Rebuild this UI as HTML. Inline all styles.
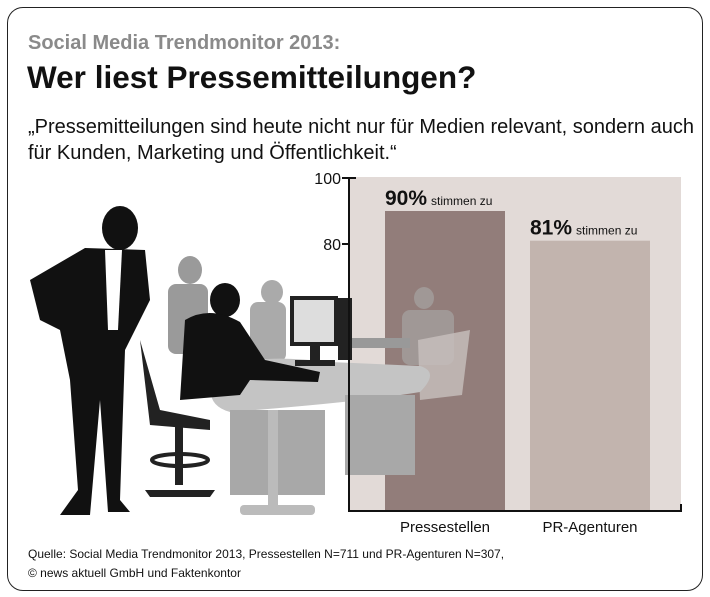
<!DOCTYPE html>
<html><head><meta charset="utf-8"><style>
body{margin:0;width:710px;height:597px;background:#fff;font-family:"Liberation Sans",sans-serif;overflow:hidden}
.t{position:absolute;white-space:nowrap}
</style></head><body>
<div style="position:absolute;left:7px;top:7px;width:694px;height:582px;border:1.5px solid #222;border-radius:16px"></div>
<div class="t" style="left:28px;top:32px;font-size:20px;font-weight:bold;color:#8a8a8a">Social Media Trendmonitor 2013:</div>
<div class="t" style="left:27px;top:59px;font-size:31.5px;font-weight:bold;color:#111">Wer liest Pressemitteilungen?</div>
<div class="t" style="left:28px;top:114px;font-size:20px;line-height:26px;color:#111">„Pressemitteilungen sind heute nicht nur für Medien relevant, sondern auch<br>für Kunden, Marketing und Öffentlichkeit.“</div>
<svg width="710" height="597" style="position:absolute;left:0;top:0" id="chart">
<rect x="349" y="177" width="332" height="334" fill="#e2dad7"/>
<g id="bars"></g>
<g>
<ellipse cx="190" cy="270" rx="12" ry="14" fill="#9a9a9a"/><rect x="168" y="284" width="40" height="70" rx="8" fill="#9a9a9a"/>
<ellipse cx="272" cy="292" rx="11" ry="12" fill="#aaa"/><rect x="250" y="302" width="36" height="60" rx="8" fill="#aaa"/>
<ellipse cx="424" cy="298" rx="10" ry="11" fill="#a09896"/><rect x="402" y="310" width="52" height="55" rx="8" fill="#a09896"/>
<path d="M418 340 L470 330 L462 395 L420 400 Z" fill="#c8c0be" opacity=".8"/>
<rect x="350" y="338" width="60" height="10" fill="#999"/>
<path d="M212 380 Q230 350 330 362 L420 366 Q440 372 420 392 Q360 402 230 412 Q205 405 212 380 Z" fill="#c4c4c4"/>
<rect x="230" y="410" width="95" height="85" fill="#a8a8a8"/><rect x="345" y="395" width="70" height="80" fill="#a8a8a8"/>
<rect x="268" y="410" width="10" height="100" fill="#bbb"/><rect x="240" y="505" width="75" height="10" rx="4" fill="#bbb"/>
<rect x="290" y="296" width="48" height="50" fill="#222"/><rect x="294" y="300" width="40" height="42" fill="#ddd"/>
<rect x="338" y="298" width="14" height="62" fill="#222"/><rect x="310" y="346" width="10" height="14" fill="#222"/><rect x="295" y="360" width="40" height="6" fill="#222"/>
<ellipse cx="225" cy="300" rx="15" ry="17" fill="#111"/>
<path d="M185 320 Q210 305 240 322 L265 360 L320 372 L318 382 L250 380 L240 395 L180 400 Z" fill="#111"/>
<path d="M140 340 L160 410 L210 420 L210 430 L150 425 Z" fill="#222"/>
<rect x="175" y="425" width="8" height="60" fill="#222"/><ellipse cx="180" cy="460" rx="28" ry="6" fill="none" stroke="#222" stroke-width="4"/>
<path d="M145 490 L215 490 L210 497 L150 497 Z" fill="#222"/>
<ellipse cx="120" cy="228" rx="18" ry="22" fill="#111"/>
<path d="M85 248 L145 250 L150 300 L135 330 L125 350 L120 500 L130 512 L108 512 L100 400 L90 515 L60 515 L78 490 L70 380 L60 330 L40 320 L30 280 Z" fill="#111"/>
<path d="M105 250 L122 250 L118 330 L108 330 Z" fill="#fff"/>
</g>
<g stroke="#111" stroke-width="2" fill="none">
<path d="M356 178 L349 178 L349 511 L681 511 L681 504"/>
</g>
<g id="yticks"></g><g id="labels"></g>
</svg>
<div class="t" style="left:28px;top:545px;font-size:12px;line-height:19px;color:#111">Quelle: Social Media Trendmonitor 2013, Pressestellen N=711 und PR-Agenturen N=307,<br>© news aktuell GmbH und Faktenkontor</div>
<script>
const categories=["Pressestellen","PR-Agenturen"];
const values=[90,81];
const tickValues=[100,80];
const barColors=["#927d7a","#c2b4ae"];
const NS="http://www.w3.org/2000/svg";
const y=v=>178+(100-v)*3.3;
const x=i=>385+i*145;
const bw=120,bottom=511;
function mk(t,a,p){const e=document.createElementNS(NS,t);for(const k in a)e.setAttribute(k,a[k]);p.appendChild(e);return e;}
const bars=document.getElementById('bars'),lab=document.getElementById('labels'),yt=document.getElementById('yticks');
values.forEach((v,i)=>{
 const r=mk('rect',{x:x(i),y:y(v),width:bw,height:bottom-y(v),fill:barColors[i]},bars);
 
 
 const t=mk('text',{x:x(i),y:y(v)-6,'font-size':21,'font-weight':'bold',fill:'#111'},lab);
 
 
 t.textContent=v+'%';
 const s=mk('tspan',{'font-size':12,'font-weight':'normal',dx:4},t);s.textContent='stimmen zu';
 const c=mk('text',{x:x(i)+bw/2,y:532,'font-size':15,'text-anchor':'middle',fill:'#111'},lab);
 
 
 c.textContent=categories[i];
});
tickValues.forEach(v=>{
 const l=mk('line',{x1:342,x2:349,y1:y(v),y2:y(v),stroke:'#111','stroke-width':2},yt);
 
 
 const t=mk('text',{x:341,y:y(v)+6,'font-size':16,'text-anchor':'end',fill:'#111'},yt);
 
 
 t.textContent=v;
});
</script>
</body></html>
